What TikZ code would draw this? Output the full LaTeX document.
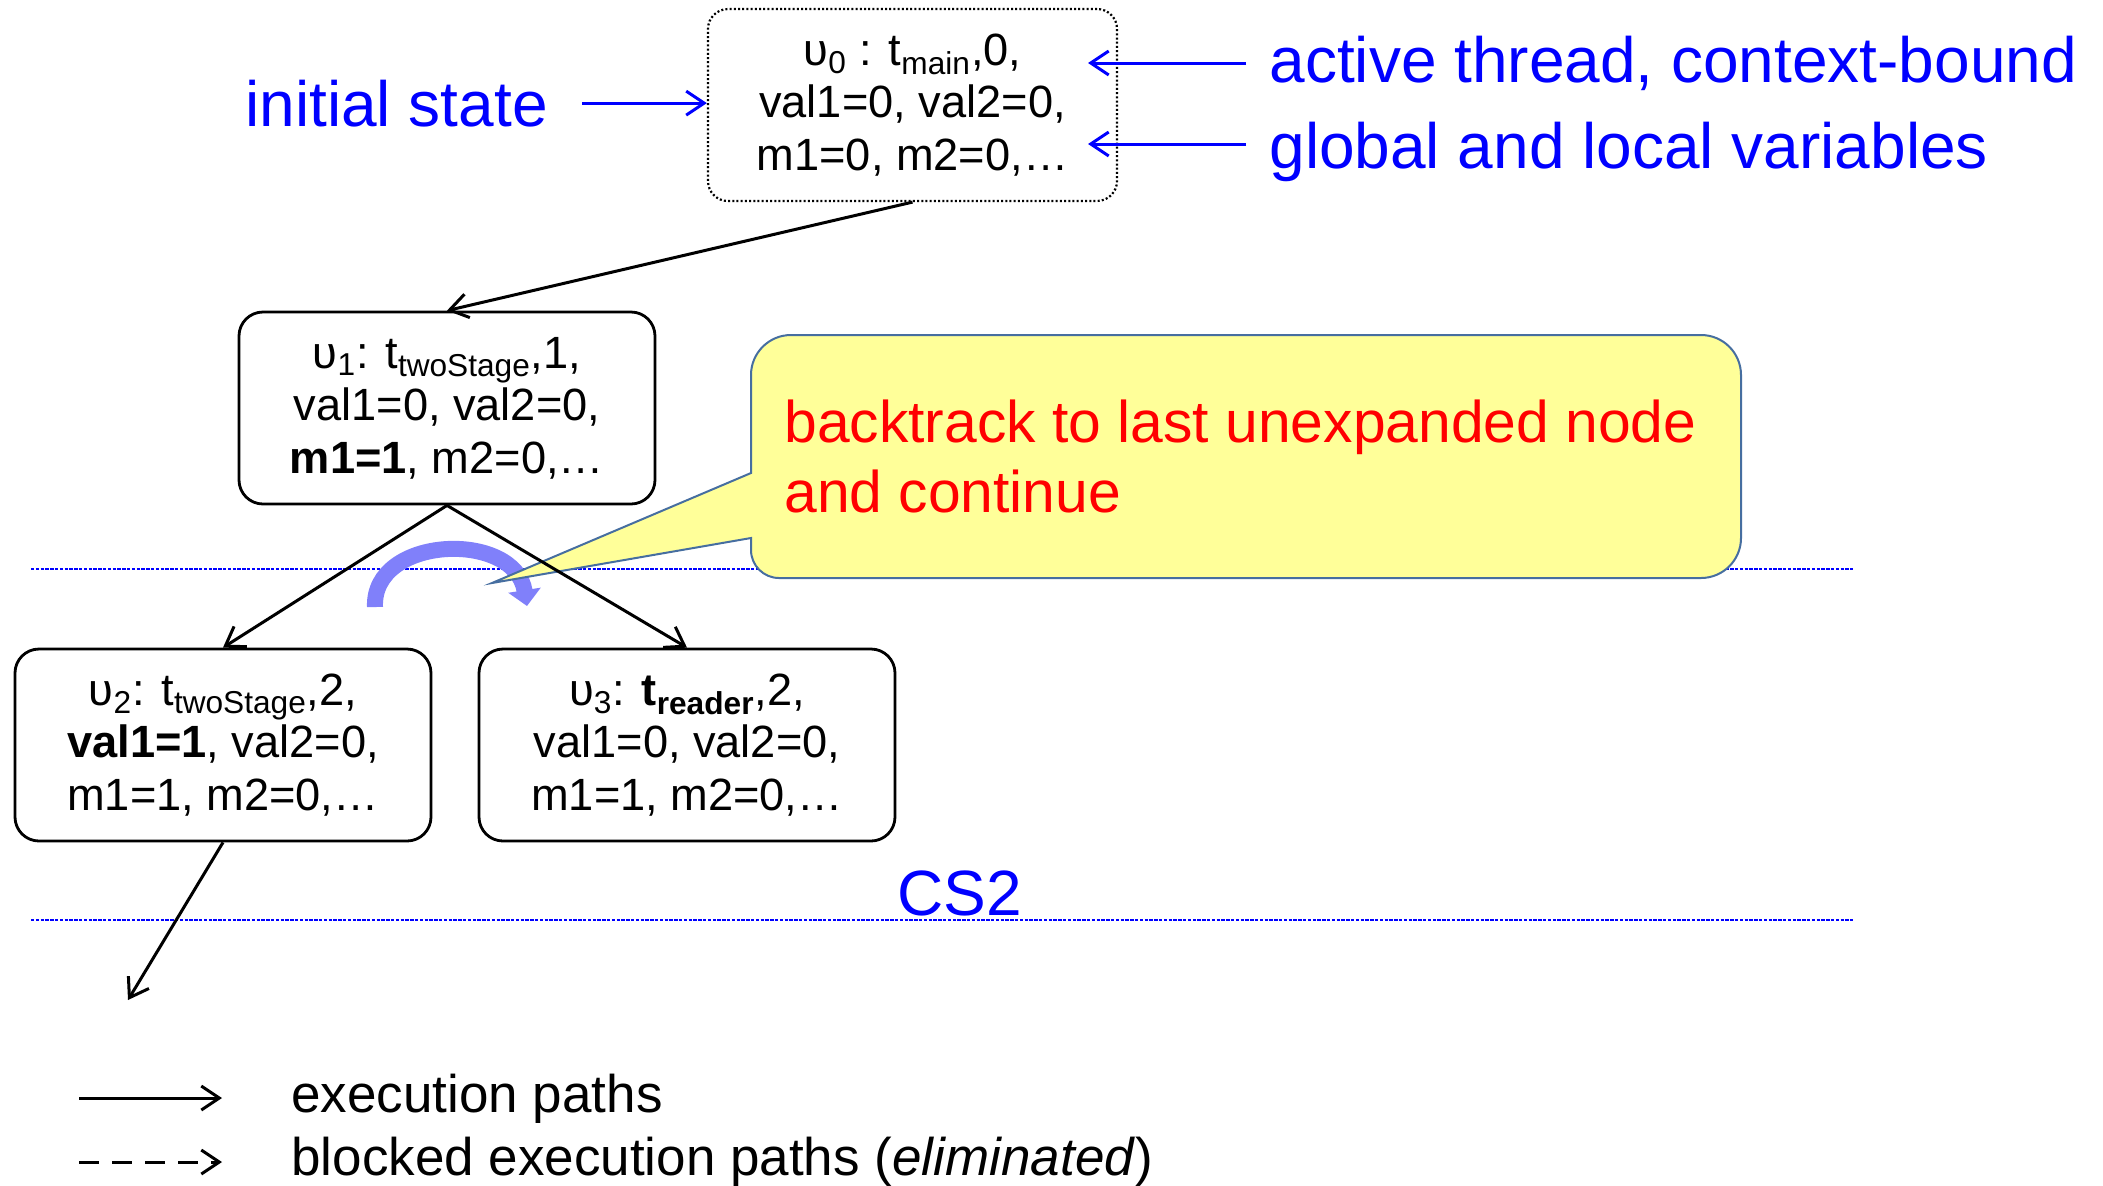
\documentclass[tikz,border=0pt]{standalone}
\usepackage{fontspec}
\setmainfont{Liberation Sans}
\usetikzlibrary{arrows.meta}
\definecolor{pureblue}{RGB}{0,0,255}
\definecolor{purered}{RGB}{255,0,0}
\definecolor{calloutfill}{RGB}{255,255,153}
\definecolor{calloutdraw}{RGB}{70,110,160}
\definecolor{arcblue}{RGB}{128,128,250}
\begin{document}
\begin{tikzpicture}[x=0.5pt,y=-0.5pt,
  state/.style={draw, line width=1.4pt, rounded corners=12pt, minimum width=208pt,
    minimum height=96pt, inner sep=0pt, align=center,
    font=\fontsize{22.6}{26.2}\selectfont},
  initstate/.style={state, minimum width=204.5pt, rounded corners=10pt,
    line width=1.1pt, dash pattern=on 1pt off 1.1pt},
  execpath/.style={line width=1.5pt, -{Straight Barb[length=9pt,width=12pt]}},
  bluearrow/.style={pureblue, line width=1.5pt, -{Straight Barb[length=9pt,width=12pt]}},
  bluelabel/.style={pureblue, inner sep=0pt, font=\fontsize{32}{38}\selectfont},
  legendlabel/.style={inner sep=0pt, font=\fontsize{26.5}{31}\selectfont},
  csline/.style={pureblue, line width=0.6pt, dash pattern=on 1.7pt off 0.7pt}
]
\path[use as bounding box] (0,0) rectangle (2103,1185);

% context switch lines
\coordinate (cs1a) at (31,569);
\coordinate (cs1b) at (1853,569);
\coordinate (cs2a) at (31,920);
\coordinate (cs2b) at (1853,920);
\draw[csline] (cs1a) -- (cs1b);
\draw[csline] (cs2a) -- (cs2b);
\node[bluelabel, anchor=base west] (cs2) at (897,915) {CS2};

% backtrack curved arrow
\coordinate (bt1) at (375,607);
\coordinate (bt2) at (527,606);
\draw[arcblue, line width=8pt, -{Triangle[length=8pt,width=16pt]}]
  (bt1) .. controls (372,535) and (515,530) .. (bt2);

% callout
\draw[calloutdraw, fill=calloutfill, line width=1pt]
  (751,473) [rounded corners=20pt] -- (751,335) -- (1741,335) -- (1741,578)
  [rounded corners=14pt] -- (751,578) [sharp corners] -- (751,538) -- (492,583) -- cycle;
\node[purered, anchor=north west, align=left, inner sep=0pt,
  font=\fontsize{29.4}{35}\selectfont] (ct) at (784,399)
  {backtrack to last unexpanded node\\and continue};

% states
\node[initstate] (v0) at (912.5,105)
  {υ\textsubscript{0} : t\textsubscript{main},0,\\val1=0, val2=0,\\m1=0, m2=0,…};
\node[state] (v1) at (447,408)
  {υ\textsubscript{1}: t\textsubscript{twoStage},1,\\val1=0, val2=0,\\\textbf{m1=1}, m2=0,…};
\node[state] (v2) at (223,745)
  {υ\textsubscript{2}: t\textsubscript{twoStage},2,\\\textbf{val1=1}, val2=0,\\m1=1, m2=0,…};
\node[state] (v3) at (687,745)
  {υ\textsubscript{3}: \textbf{t\textsubscript{reader}},2,\\val1=0, val2=0,\\m1=1, m2=0,…};

% execution paths
\coordinate (v2out) at (128,1000);
\draw[execpath] (v0.south) -- (v1.north);
\draw[execpath] (v1.south) -- (v2.north);
\draw[execpath] (v1.south) -- (v3.north);
\draw[execpath] (v2.south) -- (v2out);

% annotations
\node[bluelabel, anchor=base west] (init) at (245,126) {initial state};
\node[bluelabel, anchor=base west] (act) at (1269,82) {active thread, context-bound};
\node[bluelabel, anchor=base west] (glob) at (1269,168) {global and local variables};
\draw[bluearrow] ([xshift=17pt]init.east) -- (init.east -| v0.west);
\coordinate (acta) at (1246,63);
\coordinate (actb) at (1088,63);
\coordinate (globa) at (1246,144);
\coordinate (globb) at (1088,144);
\draw[bluearrow] (acta) -- (actb);
\draw[bluearrow] (globa) -- (globb);

% legend
\coordinate (la1) at (79,1098);
\coordinate (lb1) at (222,1098);
\coordinate (la2) at (79,1162);
\coordinate (lb2) at (222,1162);
\draw[execpath] (la1) -- (lb1);
\draw[execpath, dash pattern=on 10pt off 6.5pt] (la2) -- (lb2);
\node[legendlabel, anchor=base west] (leg1) at (291,1112) {execution paths};
\node[legendlabel, anchor=base west] (leg2) at (291,1175) {blocked execution paths (\textit{eliminated})};
\end{tikzpicture}
\end{document}
